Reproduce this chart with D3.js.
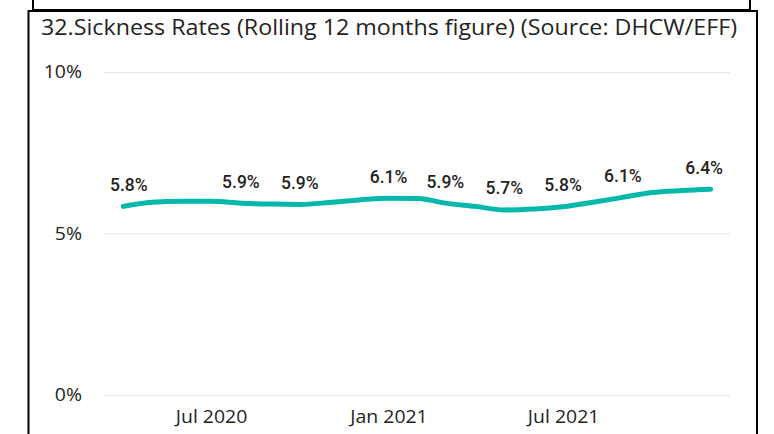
<!DOCTYPE html>
<html>
<head>
<meta charset="utf-8">
<script src="https://cdn.jsdelivr.net/npm/d3@7"></script>
<style>
  html, body { margin: 0; padding: 0; background: #fff; }
  svg { display: block; }
</style>
</head>
<body>
<svg id="chart" width="774" height="434"></svg>
<script>
// ---- data ----
const titleText = "32.Sickness Rates (Rolling 12 months figure) (Source: DHCW/EFF)";
const months = ["2020-04","2020-05","2020-06","2020-07","2020-08","2020-09","2020-10","2020-11","2020-12",
                "2021-01","2021-02","2021-03","2021-04","2021-05","2021-06","2021-07","2021-08","2021-09",
                "2021-10","2021-11","2021-12"];
const rates = [0.0584,0.0597,0.0600,0.0600,0.0594,0.0591,0.0590,0.0596,0.0604,
               0.0609,0.0608,0.0594,0.0584,0.0573,0.0576,0.0583,0.0597,0.0612,
               0.0627,0.0633,0.0637];
const labelledMonths = ["2020-04","2020-08","2020-10","2021-01","2021-03","2021-05","2021-07","2021-09","2021-12"];
const yTicks = [0, 0.05, 0.10];
const xTicks = ["2020-07","2021-01","2021-07"];

// ---- setup ----
const parse = d3.timeParse("%Y-%m");
const data = months.map((m, i) => ({ month: m, date: parse(m), value: rates[i] }));
const svg = d3.select("#chart");
const fontUI = "'Segoe UI', 'Open Sans', 'Noto Sans', sans-serif";

const plotLeft = 103, plotRight = 730;
const x = d3.scaleTime()
  .domain([d3.timeDay.offset(data[0].date, -21), d3.timeDay.offset(data[data.length - 1].date, 20)])
  .range([plotLeft, plotRight]);
const y = d3.scaleLinear().domain([0, 0.10]).range([395, 72]);

// frames
svg.append("rect").attr("x", 33).attr("y", -10).attr("width", 717).attr("height", 20)
  .attr("fill", "none").attr("stroke", "#000").attr("stroke-width", 2);
svg.append("rect").attr("x", 28.5).attr("y", 11).attr("width", 728.5).attr("height", 440)
  .attr("fill", "#fff").attr("stroke", "#000").attr("stroke-width", 2);

// title
svg.append("text").attr("x", 41).attr("y", 35)
  .attr("font-family", fontUI).attr("font-size", 22.5).attr("fill", "#252423")
  .attr("textLength", 696).attr("lengthAdjust", "spacingAndGlyphs")
  .text(titleText);

// gridlines + y labels
const sx = 1.08;
const yAxis = d3.axisLeft(y).tickValues(yTicks).tickSize(-(plotRight - plotLeft))
  .tickFormat(d3.format(".0%")).tickPadding(21);
const gy = svg.append("g").attr("transform", `translate(${plotLeft},0)`).call(yAxis);
gy.select(".domain").remove();
gy.selectAll(".tick line").attr("stroke", "#e6e6e6").attr("stroke-width", 1);
gy.selectAll(".tick text").attr("font-family", fontUI).attr("font-size", 18)
  .attr("fill", "#252423").attr("x", -21 / sx).attr("transform", `scale(${sx},1)`);

// x labels
const xAxis = d3.axisBottom(x).tickValues(xTicks.map(parse)).tickSize(0)
  .tickFormat(d3.timeFormat("%b %Y")).tickPadding(0);
const gx = svg.append("g").attr("transform", "translate(0,409)").call(xAxis);
gx.select(".domain").remove();
gx.selectAll(".tick text").attr("font-family", fontUI).attr("font-size", 18)
  .attr("fill", "#252423").attr("dy", "0.75em").attr("transform", `scale(${sx},1)`);

// line
const line = d3.line().x(d => x(d.date)).y(d => y(d.value)).curve(d3.curveMonotoneX);
svg.append("path").datum(data).attr("d", line)
  .attr("fill", "none").attr("stroke", "#01B8AA").attr("stroke-width", 5)
  .attr("stroke-linecap", "round").attr("stroke-linejoin", "round");

// data labels
const fmt = d3.format(".1%");
const labels = svg.append("g").selectAll("text")
  .data(data.filter(d => labelledMonths.includes(d.month)))
  .join("text")
  .attr("font-family", "Roboto, 'DejaVu Sans', sans-serif").attr("font-size", 17.5)
  .attr("font-weight", 500).attr("fill", "#252423").attr("text-anchor", "middle")
  .attr("y", d => y(d.value) - 15.5)
  .text(d => fmt(d.value));
labels.each(function(d) {
  const w = this.getComputedTextLength();
  const cx = Math.min(Math.max(x(d.date), plotLeft + 7 + w / 2), plotRight - 7 - w / 2);
  d3.select(this).attr("x", cx);
});
</script>
</body>
</html>
